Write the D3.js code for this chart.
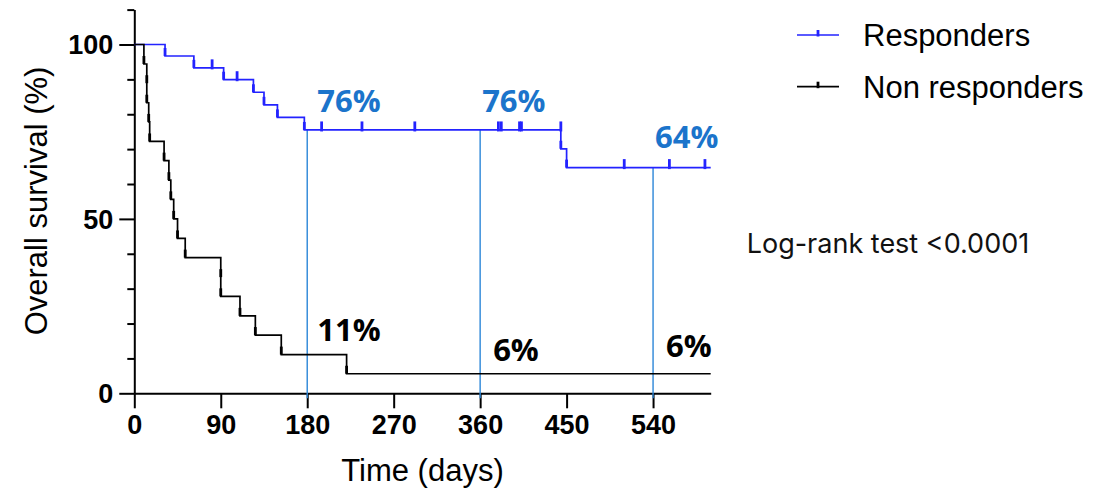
<!DOCTYPE html>
<html>
<head>
<meta charset="utf-8">
<script src="https://cdn.jsdelivr.net/npm/d3@7"></script>
<style>
  body { margin: 0; background: #fff; }
  svg { display: block; }
</style>
</head>
<body>
<svg id="chart"></svg>
<script>
// Responders: event day and survival (%) right after it, plus censored days
const resp_days     = [0, 32, 62, 93, 124, 135, 149, 177, 444, 450];
const resp_surv     = [100, 96.7, 93.3, 89.9, 86.3, 82.7, 79.1, 75.5, 70.1, 64.7];
const resp_censored = [81, 107, 195, 237, 292, 379, 382, 401, 403, 444, 510, 557, 594];

// Non responders
const non_days     = [0, 10, 13, 13, 15, 16, 31, 36, 38, 41, 45, 53, 90, 90, 110, 126, 153, 221];
const non_surv     = [100, 94.4, 88.9, 83.3, 77.8, 72.2, 66.7, 61.1, 55.6, 50, 44.4, 38.9, 33.3, 27.8, 22.2, 16.7, 11.1, 5.6];
const non_censored = [];

const series_names  = ["Responders", "Non responders"];
const landmark_days = [180, 360, 540];
const resp_labels   = ["76%", "76%", "64%"];
const non_labels    = ["11%", "6%", "6%"];

const x_ticks  = [0, 90, 180, 270, 360, 450, 540];
const y_major  = [0, 50, 100];
const y_minor  = [10, 20, 30, 40, 60, 70, 80, 90, 110];
const x_title  = "Time (days)";
const y_title  = "Overall survival (%)";
const test_txt = "Log-rank test <0.0001";

class SurvivalChart {

    constructor(config) {
        this.config = {
            parent: config.parent,
            width : config.width  || 1117,
            height: config.height || 492,
            x0: 134.3, x1: 710.7,   // pixel range for day 0 .. 600
            y0: 393.3, y1: 9.6,     // pixel range for 0 .. 110 %
        };
        this.init();
    }

    init() {
        let self = this;
        self.svg = d3.select(self.config.parent)
            .attr('width', self.config.width)
            .attr('height', self.config.height);
        self.chart = self.svg.append('g');
    }

    update() {
        let self = this;
        self.xscale = d3.scaleLinear().domain([0, 600]).range([self.config.x0, self.config.x1]);
        self.yscale = d3.scaleLinear().domain([0, 110]).range([self.config.y0, self.config.y1]);

        self.series = [
            {name: series_names[0], days: resp_days, surv: resp_surv, cens: resp_censored, color: '#2323ff'},
            {name: series_names[1], days: non_days,  surv: non_surv,  cens: non_censored,  color: '#000000'},
        ];
        self.render();
    }

    // survival level just before day t (for censor marks)
    levelBefore(s, t) {
        let i = d3.bisectLeft(s.days, t) - 1;
        return s.surv[Math.max(i, 0)];
    }

    // survival level at day t
    levelAt(s, t) {
        let i = d3.bisectRight(s.days, t) - 1;
        return s.surv[Math.max(i, 0)];
    }

    render() {
        let self = this;
        const x = self.xscale, y = self.yscale;

        // axes
        const yaxis = self.chart.append('g')
            .attr('transform', `translate(${x(0)},0)`)
            .call(d3.axisLeft(y).tickValues(y_major).tickSize(15).tickSizeOuter(0).tickFormat(d3.format('d')));
        self.chart.append('g')
            .attr('transform', `translate(${x(0)},0)`)
            .call(d3.axisLeft(y).tickValues(y_minor).tickSize(7).tickSizeOuter(0).tickFormat(''))
            .select('.domain').remove();
        const xaxis = self.chart.append('g')
            .attr('transform', `translate(0,${y(0)})`)
            .call(d3.axisBottom(x).tickValues(x_ticks).tickSize(15).tickSizeOuter(0).tickFormat(d3.format('d')));

        self.chart.selectAll('.domain, .tick line')
            .attr('stroke', '#000').attr('stroke-width', 2);
        yaxis.selectAll('.tick text')
            .attr('x', -21).attr('dy', '0.35em');
        xaxis.selectAll('.tick text')
            .attr('y', 22).attr('dy', '0.71em');
        self.chart.selectAll('.tick text')
            .style('font-family', '"Liberation Sans", Arial, sans-serif')
            .style('font-size', '27px').style('font-weight', 'bold').attr('fill', '#000');

        // axis titles
        self.chart.append('text')
            .attr('transform', `translate(47, 201) rotate(-90)`)
            .attr('text-anchor', 'middle')
            .style('font-family', '"Liberation Sans", Arial, sans-serif')
            .style('font-size', '31px')
            .text(y_title);
        self.chart.append('text')
            .attr('x', (x(0) + x(600)) / 2).attr('y', 481)
            .attr('text-anchor', 'middle')
            .style('font-family', '"Liberation Sans", Arial, sans-serif')
            .style('font-size', '31px')
            .text(x_title);

        // landmark reference lines
        const resp = self.series[0], non = self.series[1];
        self.chart.selectAll('.landmark')
            .data(landmark_days)
            .enter()
            .append('line')
            .attr('x1', d => x(d)).attr('x2', d => x(d))
            .attr('y1', d => y(self.levelAt(resp, d)))
            .attr('y2', y(0) + 5)
            .attr('stroke', '#2b86d8').attr('stroke-width', 1.4);

        // survival curves
        const line = d3.line()
            .x(d => x(d[0])).y(d => y(d[1]))
            .curve(d3.curveStepAfter);

        self.series.forEach(s => {
            const pts = s.days.map((d, i) => [d, s.surv[i]]);
            pts.push([600, s.surv[s.surv.length - 1]]);
            self.chart.append('path')
                .attr('d', line(pts))
                .attr('fill', 'none')
                .attr('stroke', s.color).attr('stroke-width', 1.7);

            // event marks
            self.chart.append('g').selectAll('line')
                .data(s.days.slice(1).map((d, i) => [d, s.surv[i + 1]]))
                .enter()
                .append('line')
                .attr('x1', d => x(d[0])).attr('x2', d => x(d[0]))
                .attr('y1', d => y(d[1]) - 8).attr('y2', d => y(d[1]))
                .attr('stroke', s.color).attr('stroke-width', 2.8);

            // censor marks
            self.chart.append('g').selectAll('line')
                .data(s.cens)
                .enter()
                .append('line')
                .attr('x1', d => x(d)).attr('x2', d => x(d))
                .attr('y1', d => y(self.levelBefore(s, d)) - 8.5)
                .attr('y2', d => y(self.levelBefore(s, d)) + 1.5)
                .attr('stroke', s.color).attr('stroke-width', 2.8);
        });

        // landmark percentages
        const resp_dx = [10, 2, 2], resp_dy = [-18, -18, -20];
        const non_dx  = [10, 13, 13], non_dy = [-14, -13, -17];
        const lab = self.chart.append('g')
            .style('font-family', '"Open Sans", sans-serif')
            .style('font-size', '31px').style('font-weight', 'bold');
        lab.selectAll('.rl')
            .data(landmark_days)
            .enter()
            .append('text')
            .attr('x', (d, i) => x(d) + resp_dx[i])
            .attr('y', (d, i) => y(self.levelAt(resp, d)) + resp_dy[i])
            .attr('fill', '#1b74cb')
            .text((d, i) => resp_labels[i]);
        lab.selectAll('.nl')
            .data(landmark_days)
            .enter()
            .append('text')
            .attr('x', (d, i) => x(d) + non_dx[i])
            .attr('y', (d, i) => y(self.levelAt(non, d)) + non_dy[i])
            .attr('fill', '#000')
            .text((d, i) => non_labels[i]);

        // legend
        const leg = self.chart.append('g').selectAll('g')
            .data(self.series)
            .enter()
            .append('g')
            .attr('transform', (d, i) => `translate(797, ${35 + i * 51.7})`);
        leg.append('line')
            .attr('x1', 0).attr('x2', 42)
            .attr('stroke', d => d.color).attr('stroke-width', 1.7);
        leg.append('line')
            .attr('x1', 21).attr('x2', 21).attr('y1', -5).attr('y2', 1.5)
            .attr('stroke', d => d.color).attr('stroke-width', 2.8);
        leg.append('text')
            .attr('x', 66).attr('y', 11)
            .style('font-family', '"Liberation Sans", Arial, sans-serif')
            .style('font-size', '31px')
            .text(d => d.name);

        // test annotation
        self.chart.append('text')
            .attr('x', 746.7).attr('y', 253.3)
            .style('font-family', 'Inter, sans-serif')
            .style('font-size', '27px')
            .attr('fill', '#111')
            .text(test_txt);
    }
}

const chart = new SurvivalChart({parent: '#chart', width: 1117, height: 492});
chart.update();
</script>
</body>
</html>
